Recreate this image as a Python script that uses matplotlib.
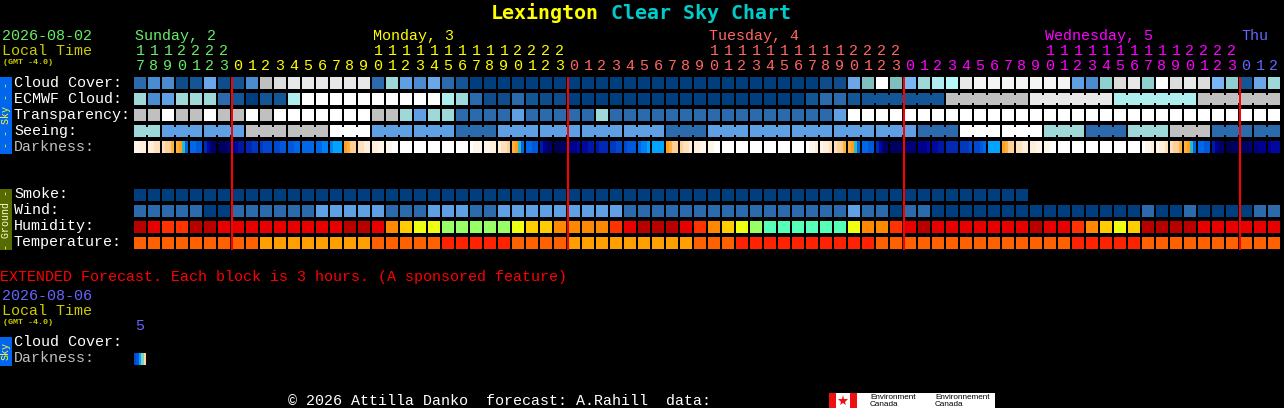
import matplotlib
matplotlib.use("Agg")
import matplotlib.pyplot as plt

# ---- data ----------------------------------------------------------------
hours = ("17 18 19 20 21 22 23 "
         "0 1 2 3 4 5 6 7 8 9 10 11 12 13 14 15 16 17 18 19 20 21 22 23 "
         "0 1 2 3 4 5 6 7 8 9 10 11 12 13 14 15 16 17 18 19 20 21 22 23 "
         "0 1 2 3 4 5 6 7 8 9 10 11 12 13 14 15 16 17 18 19 20 21 22 23 "
         "0 1 2").split()
day_names = ["Sunday, 2", "Monday, 3", "Tuesday, 4", "Wednesday, 5", "Thu"]
day_start_cols = [0, 17, 41, 65, 79]
midnight_cols = [7, 31, 55, 79]

cloud = ("deebcgbcen oppppppdkf egdcaaaaaa aaaaaaaaaa aaaaaaaaab"
         " bgirihklmp qqqqqqqfej opjropohjc gk").replace(" ", "")
ecmwf = ("kefkkkdcac clrrrrrrrr rrlkdbbdcb baaaaaaaaa aaaaaaaacd"
         " dcccccccnn nnnnpppppp llllllnnnn nn").replace(" ", "")
transparency = ("nnrnnrnnrn rrrrrrrnnk fkkddddfdd dddkdddddd dddddddddd"
                " frrrrrrrrr rrrrrrrrrr rrrrrrrrrr rr").replace(" ", "")
seeing = ("kkffffffnn nnnnrrrfff fffdddffff ffffffffdd dfffffffff"
          " ffffffdddr rrrrrkkkdd dkkknnnddd dd").replace(" ", "")
darkness = """AABB BBCC CDDE EFTQ QQPP MKIH GHHI JKLL MMNN NOOO
OOPP PPQQ QQQQ QQRR RSSS FEDD CCBB BBAA AAWW WWWW
WWWW WWWW WWWW WWWW WAAA AABB BCCD EFTQ QQPP LJIH
GGHH IJJK KKLL LMMM NNOO OPPP QRRS SSSS FEDD DCCB
BBAA AAWW WWWW WWWW WWWW WWWW WWWW WWWW WAAB ABBC
CDDE EFTQ QQPP MKIH HHHH HIII JJJK KKLL MMMM NNNO
OOPQ SSSS FEDD CCBB BBAA AAWW WWWW WWWW WWWW WWWW
WWWW WWWW WAAB ABBC CDDE EFTQ QQPP LJIH GGHH HHHI
IJJJ JKKK""".split()
smoke = ("aaaaaaaaaa aaaaaaaaaa aaaaaaaaaa aaaaaaaaaa aaaaaaaaaa"
         " aaaaaaaaaa aaaa").replace(" ", "")
wind = ("dddddaaddd dddfffffdd dfffddffff fffffddddd dddddddddd"
        " dfddaddaaa aaaaaaaaaa aadaadaaaa dd").replace(" ", "")
humidity = ("uvwwuuvvvv vvvvvuuvxy zzssssszyy xxxxwvuuuv wxyzsttttt"
            " tzxxwvuvvv vvvvuvvwxy zyuuuuvvvv vv").replace(" ", "")
temperature = ("BBBBBBBBBC CCCCCCCBBB BBAAAAABBB BCCCCCCCCC BBBAAAAAAA"
               " AAABBBBBBB BBBBBBBAAA AABBBBBBBB BB").replace(" ", "")
ext_darkness = ["O", "P", "S", "X", "Y"]

# ---- styles ---------------------------------------------------------------
sky_colors = dict(a="#003F7F", b="#0F4C8C", c="#135696", d="#2B6AAD", e="#4B8BD0",
                  f="#5F9FE3", g="#6BA6E8", h="#77B7F7", i="#7FBFBF", j="#8FD0D0",
                  k="#9ED8D8", l="#AFEEEE", m="#B8F8F8", n="#C0C0C0", o="#DCDCDC",
                  p="#E8E8E8", q="#F4F4F4", r="#FFFFFF")
dark_colors = dict(W="#FFFFFF", A="#FFF6EA", B="#FFEEDA", C="#FFE0BC", D="#FFCF94",
                   E="#FFB040", F="#FFA020", T="#30B8C0", S="#00A4FF", R="#0080F8",
                   Q="#0068E8", P="#0058DC", O="#0048D0", N="#0038C0", M="#0028B4",
                   L="#0018A8", K="#0008A0", J="#000090", I="#000078", H="#000060",
                   G="#000050", X="#80D0C0", Y="#FFD8A0")
hum_colors = dict(u="#B80000", v="#E80000", w="#FF3300", x="#FF8800", y="#FFCC00",
                  z="#EEFF11", s="#99FF66", t="#55FFB8")
temp_colors = dict(A="#FF2200", B="#FF6000", C="#FFA000")
day_colors = ["#66EE66", "#FFFF00", "#FF6666", "#FF00FF", "#6666FF"]

X0, PITCH, CELL = 134, 14, 12
MONO = "Liberation Mono"
FS = 10.8   # 15 px at 100 dpi

fig = plt.figure(figsize=(12.84, 4.08), dpi=100, facecolor="black")
ax = fig.add_axes([0, 0, 1, 1], facecolor="black")
ax.set_axis_off()


def label(x, y, s, color="white", size=FS, **kw):
    kw.setdefault("family", MONO)
    kw.setdefault("va", "baseline")
    ax.text(x, y, s, color=color, fontsize=size, **kw)


def draw_row(values, palette, top, groups=None):
    for i, v in enumerate(values):
        x = X0 + PITCH * i
        ax.bar(x, CELL, width=CELL, bottom=top, align="edge",
               color=palette[v], linewidth=0, zorder=2)
        if groups and i + 1 < len(values) and groups(i) == groups(i + 1) and groups(i) >= 0:
            ax.bar(x + CELL, CELL - 4, width=PITCH - CELL, bottom=top + 2, align="edge",
                   color=palette[v], linewidth=0, zorder=2)


draw_row(cloud, sky_colors, 77)
draw_row(ecmwf, sky_colors, 93, groups=lambda i: (i - 52) // 6 if i >= 52 else -1)
draw_row(transparency, sky_colors, 109)
draw_row(seeing, sky_colors, 125, groups=lambda i: (i + 1) // 3)
for i, stops in enumerate(darkness):
    for j, s in enumerate(stops):
        ax.bar(X0 + PITCH * i + j * CELL / 4, CELL, width=CELL / 4, bottom=141, align="edge",
               color=dark_colors[s], linewidth=0, zorder=2)
draw_row(smoke, sky_colors, 189)
draw_row(wind, sky_colors, 205)
draw_row(humidity, hum_colors, 221)
draw_row(temperature, temp_colors, 237)

for j, s in enumerate(ext_darkness):
    ax.bar(X0 + j * CELL / 5, CELL, width=CELL / 5, bottom=353, align="edge",
           color=dark_colors[s], linewidth=0, zorder=2)

ax.vlines([X0 + PITCH * c for c in midnight_cols], 77, 250,
          color="#FF0000", linewidth=1.44, zorder=3)

# title
label(491, 19, "Lexington", "#FFFF00", 14.4, weight="bold", family="DejaVu Sans Mono")
label(611, 19, "Clear Sky Chart", "#00CCCC", 14.4, weight="bold", family="DejaVu Sans Mono")

# header left
label(2, 40, "2026-08-02", "#66EE66")
label(2, 55, "Local Time", "#CCCC00")
label(3, 64, "(GMT -4.0)", "#CCCC00", 6, weight="bold")

# header days and hours
day_idx = 0
for i, h in enumerate(hours):
    while day_idx < len(midnight_cols) and i >= midnight_cols[day_idx]:
        day_idx += 1
    col = day_colors[day_idx]
    cx = X0 + PITCH * i + CELL / 2
    label(cx, 70, h[-1], col, ha="center")
    if len(h) == 2:
        label(cx, 55, h[0], col, ha="center")
for name, c, col in zip(day_names, day_start_cols, day_colors):
    label(X0 + PITCH * c + 1, 40, name, col)

# row labels
for y, s, col in [(87, "Cloud Cover:", "white"), (103, "ECMWF Cloud:", "white"),
                  (119, "Transparency:", "white"), (135, "Seeing:", "white"),
                  (151, "Darkness:", "#C0C0C0"), (198, "Smoke:", "white"),
                  (214, "Wind:", "white"), (230, "Humidity:", "white"),
                  (246, "Temperature:", "white")]:
    label(14, y, s, col)

# side bars
ax.bar(0, 77, width=12, bottom=77, align="edge", color="#0066EE", linewidth=0)
ax.bar(0, 61, width=12, bottom=189, align="edge", color="#556B00", linewidth=0)
ax.bar(0, 29, width=12, bottom=337, align="edge", color="#0066EE", linewidth=0)
label(6, 115.5, "- - Sky - -", "#FFFF33", 7.2, rotation=90, ha="center", va="center")
label(6, 219.5, "- Ground -", "#FFFFCC", 7.2, rotation=90, ha="center", va="center")
label(6, 351.5, "Sky", "#FFFF33", 7.2, rotation=90, ha="center", va="center")

# extended section
label(0, 281, "EXTENDED Forecast. Each block is 3 hours. (A sponsored feature)", "#FF0000")
label(2, 300, "2026-08-06", "#6666FF")
label(2, 315, "Local Time", "#CCCC00")
label(3, 324, "(GMT -4.0)", "#CCCC00", 6, weight="bold")
label(X0 + 1, 330, "5", "#6666FF")
label(14, 346, "Cloud Cover:", "white")
label(14, 362, "Darkness:", "#C0C0C0")

# footer
label(288, 405, "\u00a9 2026 Attilla Danko  forecast: A.Rahill  data:", "white")
ax.bar(829, 15, width=166, bottom=393, align="edge", color="white", linewidth=0)
ax.bar(829, 15, width=7, bottom=393, align="edge", color="#EE1111", linewidth=0)
ax.bar(850, 15, width=7, bottom=393, align="edge", color="#EE1111", linewidth=0)
ax.plot([843], [400.5], marker="*", markersize=8, color="#EE1111", markeredgewidth=0)
for x, top, bottom in [(870, "Environment", "Canada"), (935, "Environnement", "Canada")]:
    label(x, 399, top, "black", 5.9, family="Liberation Sans")
    label(x, 406, bottom, "black", 5.9, family="Liberation Sans")

ax.set_xlim(0, 1284)
ax.set_ylim(408, 0)
fig.savefig("out.png", dpi=100, facecolor="black")
